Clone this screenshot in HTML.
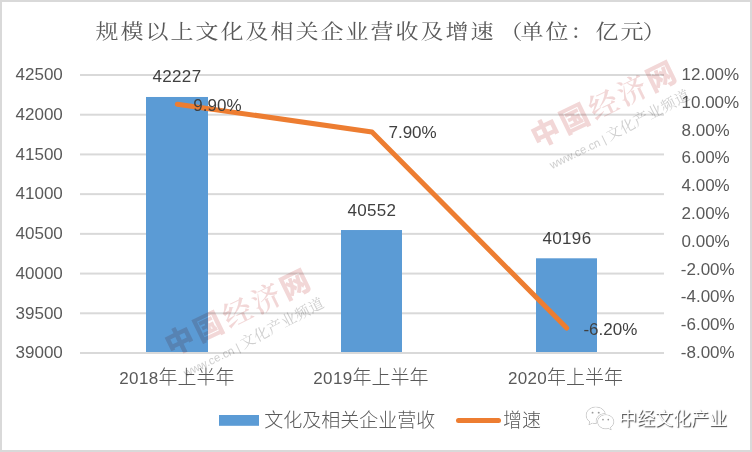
<!DOCTYPE html>
<html lang="zh-CN">
<head>
<meta charset="utf-8">
<title>规模以上文化及相关企业营收及增速</title>
<style>
html,body{margin:0;padding:0;background:#fff;}
body{width:752px;height:452px;overflow:hidden;position:relative;font-family:"Liberation Sans","Noto Sans CJK SC",sans-serif;}
#chart{position:absolute;left:0;top:0;width:752px;height:452px;box-sizing:border-box;border:2px solid #d9d9d9;background:#fff;overflow:hidden;}
#chart svg{position:absolute;left:-2px;top:-2px;}
.t{position:absolute;white-space:nowrap;line-height:20px;height:20px;font-size:17px;color:#595959;}
.c{font-family:"Noto Sans CJK SC",sans-serif;font-size:19px;font-weight:300;}
.n{letter-spacing:.3px;}
.yl{left:-2px;width:64.5px;text-align:right;margin-left:-2px}
.yr{left:680.5px;text-align:left;}
.dl{color:#404040;transform:translateX(-50%);}
.cat{transform:translateX(-50%);}
#title{position:absolute;left:95.5px;top:14px;height:34px;line-height:34px;white-space:nowrap;font-family:"Noto Serif CJK SC","Liberation Serif",serif;font-weight:400;font-size:23px;letter-spacing:2px;color:#595959;transform-origin:0 50%;transform:scaleY(.89);}
#title span{position:relative;}
.wm{position:absolute;width:0;height:0;transform-origin:0 0;transform:rotate(-26deg);white-space:nowrap;pointer-events:none;mix-blend-mode:multiply;}
.wm div{position:absolute;white-space:nowrap;}
.wm .big{left:-2px;top:-15px;font-family:"Noto Sans CJK SC",sans-serif;font-weight:900;font-size:29px;line-height:32px;color:#f2d7d7;letter-spacing:3px;}
.wm .big i{font-style:normal;font-family:"Noto Serif CJK SC",serif;font-weight:600;}
.wm .sm{left:2px;top:24px;font-family:"Liberation Sans",sans-serif;font-size:11.5px;line-height:18px;color:#cfcfcf;}
.wm .sm b{font-weight:400;font-size:15px;font-family:"Noto Serif CJK SC",serif;letter-spacing:0.4px;margin-left:3px;display:inline-block;transform-origin:0 70%;transform:rotate(-1.5deg);}
#wx{position:absolute;left:617px;top:402.5px;font-family:"Noto Sans CJK SC",sans-serif;font-size:18px;line-height:24px;color:#fff;text-shadow:1px 1px 1px rgba(0,0,0,.75);white-space:nowrap;}
</style>
</head>
<body>
<div id="chart">
<svg width="752" height="452" viewBox="0 0 752 452">
<rect x="80" y="74.00" width="584" height="2" fill="#d9d9d9"/>
<rect x="80" y="113.71" width="584" height="2" fill="#d9d9d9"/>
<rect x="80" y="153.43" width="584" height="2" fill="#d9d9d9"/>
<rect x="80" y="193.14" width="584" height="2" fill="#d9d9d9"/>
<rect x="80" y="232.86" width="584" height="2" fill="#d9d9d9"/>
<rect x="80" y="272.57" width="584" height="2" fill="#d9d9d9"/>
<rect x="80" y="312.29" width="584" height="2" fill="#d9d9d9"/>
<rect x="80" y="352.00" width="584" height="2" fill="#d9d9d9"/>
<rect x="146" y="96.98" width="62" height="255.02" fill="#5b9bd5"/>
<rect x="341" y="230.03" width="61" height="121.97" fill="#5b9bd5"/>
<rect x="536" y="258.30" width="61" height="93.70" fill="#5b9bd5"/>
<polyline points="177.33,104.19 372.00,131.99 566.67,327.98" fill="none" stroke="#ed7d31" stroke-width="5" stroke-linecap="round" stroke-linejoin="round"/>
<rect x="219" y="415" width="40" height="10.8" fill="#5b9bd5"/>
<line x1="458.5" y1="420.4" x2="498.5" y2="420.4" stroke="#ed7d31" stroke-width="5" stroke-linecap="round"/>
</svg>
<div id="title" style="left:93.5px;top:12.2px">规模以上文化及相关企业营收及增速<span style="left:4px">（</span>单位：亿元<span style="left:-3px">）</span></div>
<div class="t yl" style="left:-2px;top:63.3px;width:64.8px;text-align:right">42500</div>
<div class="t yl" style="left:-2px;top:103.0px;width:64.8px;text-align:right">42000</div>
<div class="t yl" style="left:-2px;top:142.7px;width:64.8px;text-align:right">41500</div>
<div class="t yl" style="left:-2px;top:182.4px;width:64.8px;text-align:right">41000</div>
<div class="t yl" style="left:-2px;top:222.2px;width:64.8px;text-align:right">40500</div>
<div class="t yl" style="left:-2px;top:261.9px;width:64.8px;text-align:right">40000</div>
<div class="t yl" style="left:-2px;top:301.6px;width:64.8px;text-align:right">39500</div>
<div class="t yl" style="left:-2px;top:341.3px;width:64.8px;text-align:right">39000</div>
<div class="t yr" style="left:679.5px;top:63.0px;">12.00%</div>
<div class="t yr" style="left:679.5px;top:90.8px;">10.00%</div>
<div class="t yr" style="left:679.5px;top:118.6px;">8.00%</div>
<div class="t yr" style="left:679.5px;top:146.4px;">6.00%</div>
<div class="t yr" style="left:679.5px;top:174.2px;">4.00%</div>
<div class="t yr" style="left:679.5px;top:202.0px;">2.00%</div>
<div class="t yr" style="left:679.5px;top:229.8px;">0.00%</div>
<div class="t yr" style="left:678.8px;top:257.6px;">-2.00%</div>
<div class="t yr" style="left:678.8px;top:285.4px;">-4.00%</div>
<div class="t yr" style="left:678.8px;top:313.2px;">-6.00%</div>
<div class="t yr" style="left:678.8px;top:341.0px;">-8.00%</div>
<div class="t dl n" style="left:175.0px;top:65.2px;">42227</div>
<div class="t dl" style="left:215.4px;top:94.3px;">9.90%</div>
<div class="t dl" style="left:410.6px;top:121.1px;">7.90%</div>
<div class="t dl n" style="left:369.9px;top:199.0px;">40552</div>
<div class="t dl n" style="left:565.0px;top:227.1px;">40196</div>
<div class="t dl" style="left:608.4px;top:318.3px;">-6.20%</div>
<div class="t cat" style="left:174.9px;top:364.3px;"><span class="n">2018</span><span class="c">年上半年</span></div>
<div class="t cat" style="left:368.9px;top:364.3px;"><span class="n">2019</span><span class="c">年上半年</span></div>
<div class="t cat" style="left:563.6px;top:364.3px;"><span class="n">2020</span><span class="c">年上半年</span></div>
<div class="t c" style="left:262.3px;top:406.8px;">文化及相关企业营收</div>
<div class="t c" style="left:501.0px;top:406.8px;">增速</div>
<div class="wm" style="left:530.6px;top:132.9px"><div class="big">中国<i>经济</i>网</div><div class="sm">www.ce.cn |<b>文化产业频道</b></div></div>
<div class="wm" style="left:164.6px;top:340.9px"><div class="big">中国<i>经济</i>网</div><div class="sm">www.ce.cn |<b>文化产业频道</b></div></div>
<svg style="left:580.6px;top:400.6px;overflow:visible;filter:drop-shadow(.2px .8px .5px rgba(0,0,0,.5))" width="34" height="32.500" viewBox="0 0 32 30">
<g fill="#fff" stroke="rgba(0,0,0,.12)" stroke-width="0.6">
<path d="M12 3.500c-5 0-9 3.500-9 7.800 0 2.500 1.300 4.700 3.400 6.100l-0.900 2.900 3.300-1.700c1 .3 2.100.5 3.200.5h.6c-.2-.700-.3-1.400-.3-2.100 0-4 3.700-7.300 8.300-7.300h.4C20.200 6.200 16.500 3.500 12 3.500z"/>
<path d="M29 17.400c0-3.700-3.400-6.600-7.600-6.600s-7.600 2.900-7.600 6.600 3.400 6.600 7.600 6.600c.9 0 1.800-.1 2.600-.4l2.600 1.400-.7-2.400c1.900-1.200 3.100-3.100 3.100-5.200z"/>
</g>
<g fill="rgba(0,0,0,.4)"><circle cx="9" cy="8.800" r="0.900"/><circle cx="14.800" cy="8.800" r="0.900"/><circle cx="18.800" cy="15.300" r="0.800"/><circle cx="23.800" cy="15.300" r="0.800"/></g>
</svg>
<div id="wx">中经文化产业</div>
</div>
</body>
</html>
